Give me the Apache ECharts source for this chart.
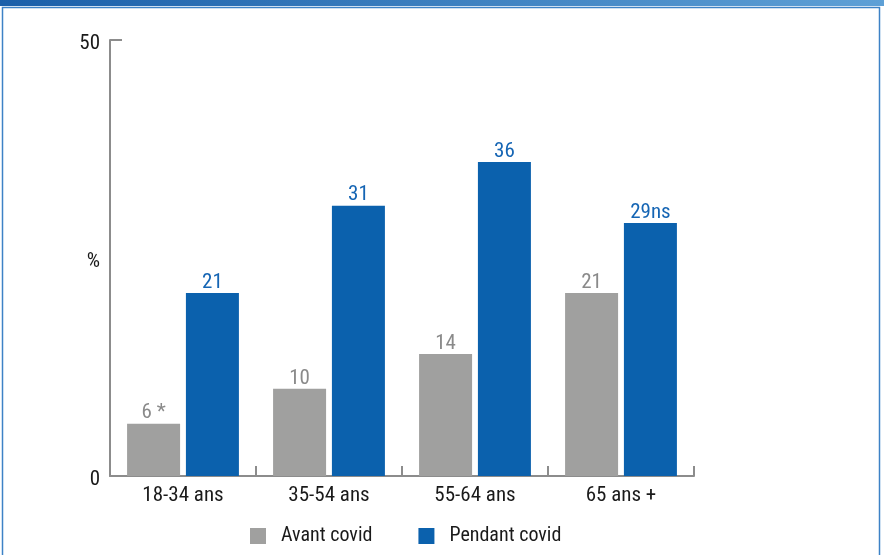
<!DOCTYPE html>
<html><head><meta charset="utf-8">
<script src="https://cdn.jsdelivr.net/npm/echarts@6/dist/echarts.min.js"></script>
<style>html,body{margin:0;padding:0;background:#fff}#c{width:884px;height:555px}</style>
</head><body><div id="c"></div>
<script>
const categories = ['18-34 ans', '35-54 ans', '55-64 ans', '65 ans +'];
const avantCovid = [6, 10, 14, 21];
const pendantCovid = [21, 31, 36, 29];
const avantLabels = ['6 *', '10', '14', '21'];
const pendantLabels = ['21', '31', '36', '29ns'];
const yTickValues = [0, 25, 50];
const yTickLabels = ['0', '%', '50'];

const chart = echarts.init(document.getElementById('c'), null, {renderer: 'canvas'});
const FONT = '"Liberation Sans Narrow", "Roboto Condensed", Roboto, sans-serif';
chart.setOption({
  animation: false,
  textStyle: {fontFamily: FONT},
  grid: {left: 110, right: 190, top: 40, bottom: 79},
  graphic: [
    {type: 'rect', shape: {x: 0, y: 0, width: 884, height: 6}, silent: true,
     style: {fill: new echarts.graphic.LinearGradient(0, 0, 1, 0, [{offset: 0, color: '#1a5fa9'}, {offset: 1, color: '#5ea0d6'}])}},
    {type: 'rect', shape: {x: 2.5, y: 7.5, width: 877, height: 560}, silent: true,
     style: {fill: null, stroke: '#3d82c6', lineWidth: 1.5}}
  ],
  legend: {
    bottom: 4, left: 245, itemWidth: 16, itemHeight: 16, itemGap: 46,
    icon: 'rect',
    textStyle: {fontSize: 20, color: '#1a1a1a', fontFamily: FONT, padding: [0, 0, 0, 10]},
    data: ['Avant covid', 'Pendant covid']
  },
  xAxis: {
    type: 'category', data: categories,
    axisLine: {lineStyle: {color: '#8c8c8c', width: 2}},
    axisTick: {show: true, inside: true, length: 10, alignWithLabel: false, lineStyle: {color: '#8c8c8c', width: 2}},
    axisLabel: {fontSize: 21, color: '#1a1a1a', margin: 9, fontFamily: FONT}
  },
  yAxis: {
    type: 'value', min: 0, max: 50, interval: 25,
    splitLine: {show: false},
    axisLine: {show: true, lineStyle: {color: '#8c8c8c', width: 2}},
    axisTick: {show: true, inside: true, length: 12, customValues: [50], lineStyle: {color: '#8c8c8c', width: 2}},
    axisLabel: {color: '#1a1a1a', margin: 10, fontFamily: FONT,
      customValues: yTickValues,
      rich: {a: {fontSize: 21, color: '#1a1a1a', fontFamily: FONT, padding: [8, 0, 0, 0]}},
      formatter: v => '{a|' + yTickLabels[yTickValues.indexOf(v)] + '}'}
  },
  series: [
    {name: 'Avant covid', type: 'bar', data: avantCovid, barWidth: 53, barGap: '11%',
     itemStyle: {color: '#a0a09f'},
     label: {show: true, position: 'top', distance: 0, fontSize: 21, color: '#8a8a8a', fontFamily: FONT,
       formatter: p => avantLabels[p.dataIndex]}},
    {name: 'Pendant covid', type: 'bar', data: pendantCovid, barWidth: 53,
     itemStyle: {color: '#0b61ad'},
     label: {show: true, position: 'top', distance: 0, fontSize: 21, color: '#1565b4', fontFamily: FONT,
       formatter: p => pendantLabels[p.dataIndex]}}
  ]
});
</script></body></html>
